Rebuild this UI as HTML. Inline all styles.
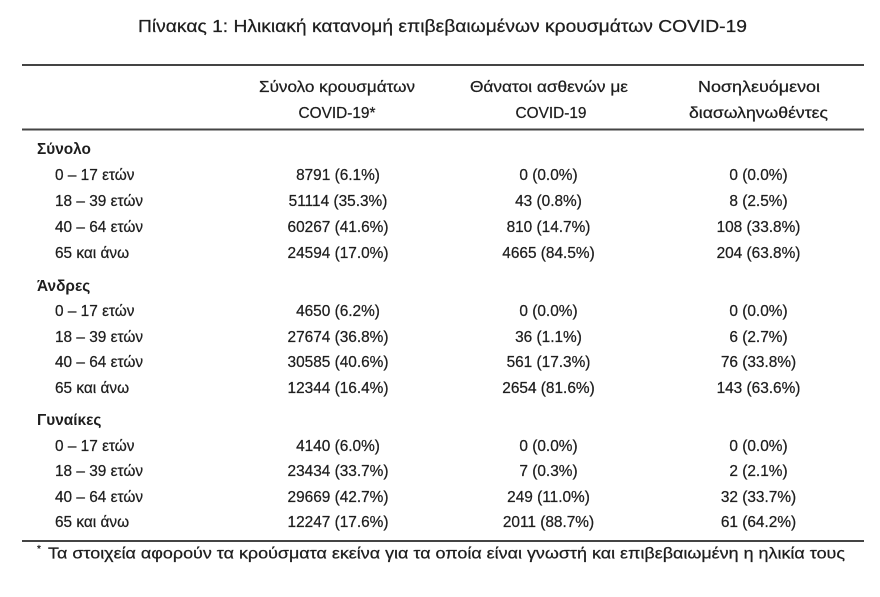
<!DOCTYPE html>
<html>
<head>
<meta charset="utf-8">
<style>
  html, body { margin:0; padding:0; background:#fff; }
  svg { display:block; }
  text { font-family: "Liberation Sans", "DejaVu Sans", sans-serif; fill:#1e1e1e; stroke:#1e1e1e; stroke-width:0.25px; }
  .v { font-size:15.4px; text-anchor:middle; }
  .l { font-size:15.4px; }
  .b { font-size:15.4px; font-weight:bold; stroke-width:0; }
  .h { font-size:15.4px; text-anchor:middle; }
</style>
</head>
<body>
<svg width="880" height="597" viewBox="0 0 880 597" xmlns="http://www.w3.org/2000/svg">
  <rect x="0" y="0" width="880" height="597" fill="#fff"/>

  <!-- Title -->
  <text x="138" y="32" font-size="17.5" textLength="609" lengthAdjust="spacingAndGlyphs">Πίνακας 1: Ηλικιακή κατανομή επιβεβαιωμένων κρουσμάτων COVID-19</text>

  <!-- Rules -->
  <rect x="22" y="64" width="842" height="2" fill="#444"/>
  <rect x="22" y="128.5" width="842" height="2" fill="#444"/>
  <rect x="22" y="540" width="842" height="2" fill="#444"/>

  <!-- Header -->
  <text class="h" x="337" y="92" textLength="156" lengthAdjust="spacingAndGlyphs">Σύνολο κρουσμάτων</text>
  <text class="h" x="337" y="118">COVID-19*</text>
  <text class="h" x="549" y="92" textLength="158" lengthAdjust="spacingAndGlyphs">Θάνατοι ασθενών με</text>
  <text class="h" x="551" y="118">COVID-19</text>
  <text class="h" x="759" y="92" textLength="122" lengthAdjust="spacingAndGlyphs">Νοσηλευόμενοι</text>
  <text class="h" x="758.5" y="118" textLength="139" lengthAdjust="spacingAndGlyphs">διασωληνωθέντες</text>

  <!-- Σύνολο -->
  <text class="b" x="37" y="154">Σύνολο</text>
  <text class="l" x="55" y="180">0 – 17 ετών</text>
  <text class="l" x="55" y="206">18 – 39 ετών</text>
  <text class="l" x="55" y="232">40 – 64 ετών</text>
  <text class="l" x="55" y="258">65 και άνω</text>
  <text class="v" x="338" y="180">8791 (6.1%)</text>
  <text class="v" x="338" y="206">51114 (35.3%)</text>
  <text class="v" x="338" y="232">60267 (41.6%)</text>
  <text class="v" x="338" y="258">24594 (17.0%)</text>
  <text class="v" x="548.5" y="180">0 (0.0%)</text>
  <text class="v" x="548.5" y="206">43 (0.8%)</text>
  <text class="v" x="548.5" y="232">810 (14.7%)</text>
  <text class="v" x="548.5" y="258">4665 (84.5%)</text>
  <text class="v" x="758.5" y="180">0 (0.0%)</text>
  <text class="v" x="758.5" y="206">8 (2.5%)</text>
  <text class="v" x="758.5" y="232">108 (33.8%)</text>
  <text class="v" x="758.5" y="258">204 (63.8%)</text>

  <!-- Άνδρες -->
  <text class="b" x="37" y="291">Άνδρες</text>
  <text class="l" x="55" y="316">0 – 17 ετών</text>
  <text class="l" x="55" y="342">18 – 39 ετών</text>
  <text class="l" x="55" y="367">40 – 64 ετών</text>
  <text class="l" x="55" y="393">65 και άνω</text>
  <text class="v" x="338" y="316">4650 (6.2%)</text>
  <text class="v" x="338" y="342">27674 (36.8%)</text>
  <text class="v" x="338" y="367">30585 (40.6%)</text>
  <text class="v" x="338" y="393">12344 (16.4%)</text>
  <text class="v" x="548.5" y="316">0 (0.0%)</text>
  <text class="v" x="548.5" y="342">36 (1.1%)</text>
  <text class="v" x="548.5" y="367">561 (17.3%)</text>
  <text class="v" x="548.5" y="393">2654 (81.6%)</text>
  <text class="v" x="758.5" y="316">0 (0.0%)</text>
  <text class="v" x="758.5" y="342">6 (2.7%)</text>
  <text class="v" x="758.5" y="367">76 (33.8%)</text>
  <text class="v" x="758.5" y="393">143 (63.6%)</text>

  <!-- Γυναίκες -->
  <text class="b" x="37" y="425">Γυναίκες</text>
  <text class="l" x="55" y="451">0 – 17 ετών</text>
  <text class="l" x="55" y="476">18 – 39 ετών</text>
  <text class="l" x="55" y="502">40 – 64 ετών</text>
  <text class="l" x="55" y="527">65 και άνω</text>
  <text class="v" x="338" y="451">4140 (6.0%)</text>
  <text class="v" x="338" y="476">23434 (33.7%)</text>
  <text class="v" x="338" y="502">29669 (42.7%)</text>
  <text class="v" x="338" y="527">12247 (17.6%)</text>
  <text class="v" x="548.5" y="451">0 (0.0%)</text>
  <text class="v" x="548.5" y="476">7 (0.3%)</text>
  <text class="v" x="548.5" y="502">249 (11.0%)</text>
  <text class="v" x="548.5" y="527">2011 (88.7%)</text>
  <text class="v" x="758.5" y="451">0 (0.0%)</text>
  <text class="v" x="758.5" y="476">2 (2.1%)</text>
  <text class="v" x="758.5" y="502">32 (33.7%)</text>
  <text class="v" x="758.5" y="527">61 (64.2%)</text>

  <!-- Footnote -->
  <text x="37" y="552" font-size="10">*</text>
  <text x="48" y="558.5" font-size="15.6" textLength="797" lengthAdjust="spacingAndGlyphs">Τα στοιχεία αφορούν τα κρούσματα εκείνα για τα οποία είναι γνωστή και επιβεβαιωμένη η ηλικία τους</text>
</svg>
</body>
</html>
